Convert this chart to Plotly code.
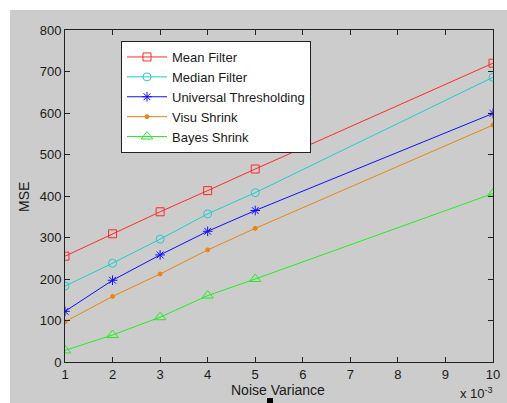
import plotly.graph_objects as go

noise_variance = [1, 2, 3, 4, 5, 10]
mean_filter = [255, 309, 362, 413, 465, 720]
median_filter = [183, 238, 296, 357, 408, 686]
universal_thr = [122, 197, 258, 315, 365, 599]
visu_shrink = [97, 158, 212, 270, 322, 571]
bayes_shrink = [28, 65, 108, 160, 200, 406]
x_ticks = list(range(1, 11))
y_ticks = list(range(0, 801, 100))

series = [
    ("Mean Filter", mean_filter, "#ff2a2a", "square-open", 8),
    ("Median Filter", median_filter, "#22cccc", "circle-open", 8),
    ("Universal Thresholding", universal_thr, "#1010ff", "asterisk-open", 8),
    ("Visu Shrink", visu_shrink, "#e8860f", "circle", 4),
    ("Bayes Shrink", bayes_shrink, "#22ee22", "triangle-up-open", 10),
]

FONT = "Liberation Sans, Arial"
TXT = "#1a1a1a"

fig = go.Figure()
for name, vals, col, sym, sz in series:
    fig.add_trace(go.Scatter(
        x=noise_variance, y=vals, name=name, mode="lines+markers",
        line=dict(color=col, width=1),
        marker=dict(symbol=sym, size=sz, color=col, line=dict(color=col, width=1)),
    ))

L, R, T, B = 65, 14, 30, 41
W, H = 507, 403
pw, ph = W - L - R, H - T - B

def px(x):
    return (x - L) / pw

def py(y):
    return (H - B - y) / ph

fig.add_shape(type="rect", xref="paper", yref="paper",
              x0=px(10), x1=px(W + 5), y0=py(H + 5), y1=py(10),
              fillcolor="#cccccc", line=dict(width=0), layer="below")
fig.add_shape(type="rect", xref="paper", yref="paper",
              x0=px(267), x1=px(273), y0=py(403), y1=py(398),
              fillcolor="black", line=dict(width=0))

axis_common = dict(
    showgrid=False, zeroline=False, showline=True, linecolor="#222222", linewidth=1,
    mirror="ticks", ticks="inside", ticklen=5, tickcolor="#222222", automargin=False,
    tickfont=dict(family=FONT, size=13, color=TXT),
)

fig.update_xaxes(range=[1, 10], tickvals=x_ticks, **axis_common)
fig.update_yaxes(range=[0, 800], tickvals=y_ticks, **axis_common)

fig.add_annotation(xref="paper", yref="paper", x=px(278), y=py(390),
                   text="Noise Variance", showarrow=False,
                   xanchor="center", yanchor="middle",
                   font=dict(family=FONT, size=14, color=TXT))
fig.add_annotation(xref="paper", yref="paper", x=px(24), y=py(197),
                   text="MSE", showarrow=False, textangle=-90,
                   xanchor="center", yanchor="middle",
                   font=dict(family=FONT, size=14, color=TXT))
fig.add_annotation(xref="paper", yref="paper", x=px(476), y=py(393),
                   text="x 10<sup>-3</sup>", showarrow=False,
                   xanchor="center", yanchor="middle",
                   font=dict(family=FONT, size=13, color=TXT))

fig.update_layout(
    width=W, height=H, margin=dict(l=L, r=R, t=T, b=B),
    paper_bgcolor="white", plot_bgcolor="white",
    showlegend=True,
    legend=dict(x=px(121), y=py(41), xanchor="left", yanchor="top",
                bgcolor="white", bordercolor="#222222", borderwidth=1,
                font=dict(family=FONT, size=13, color=TXT),
                tracegroupgap=0, itemwidth=40),
)

fig.write_html("out.html", config={"displayModeBar": False},
               post_script="document.body.style.margin='0';document.body.style.overflow='hidden';")
